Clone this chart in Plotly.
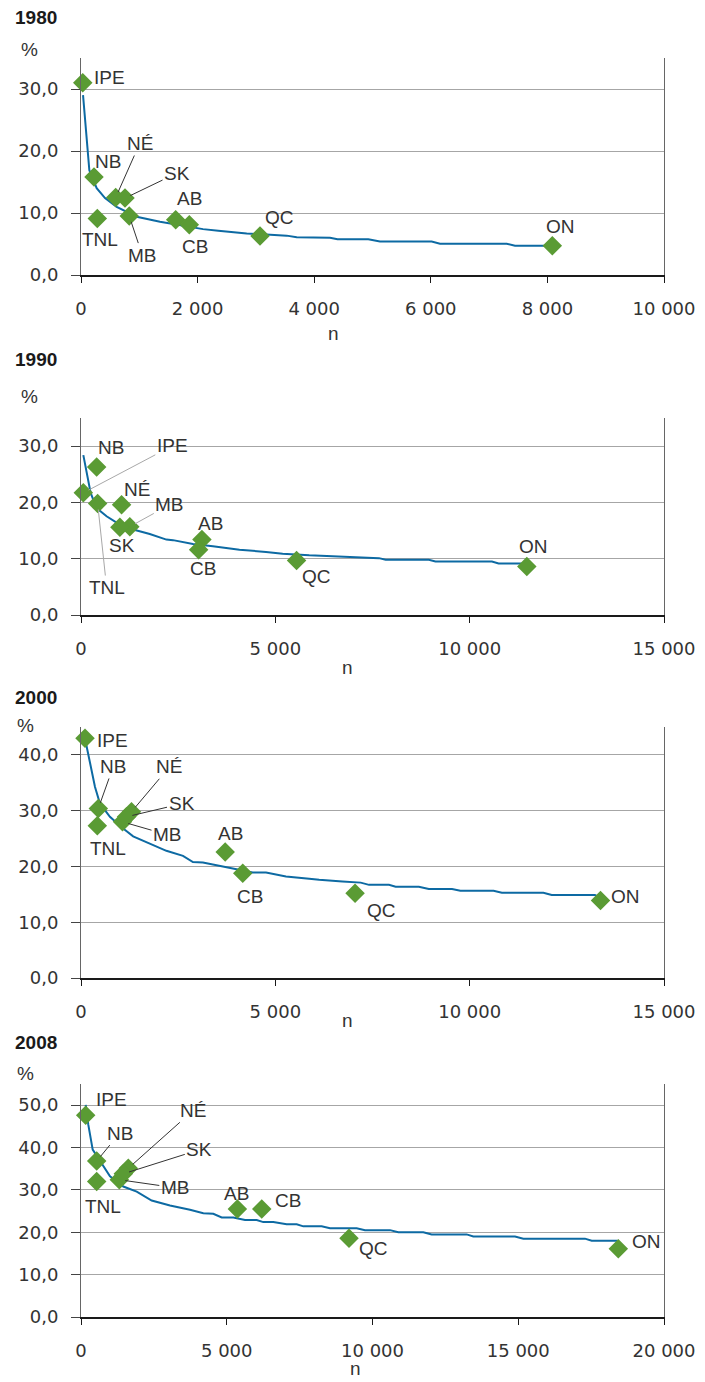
import plotly.graph_objects as go

# page has an 8px body margin, so the figure is sized to fill the remaining window
PAGE_OFF = 8
W, H = 705 - PAGE_OFF, 1382 - PAGE_OFF

# ---------------- data ----------------
provinces = ["TNL", "IPE", "NÉ", "NB", "QC", "ON", "MB", "SK", "AB", "CB"]

n_1980 = [280, 30, 595, 223, 3070, 8084, 828, 755, 1624, 1858]
p_1980 = [9.1, 31.0, 12.5, 15.8, 6.3, 4.7, 9.5, 12.4, 8.9, 8.1]
n_1990 = [428, 59, 1044, 403, 5547, 11470, 1256, 1000, 3111, 3026]
p_1990 = [19.8, 21.7, 19.6, 26.3, 9.7, 8.6, 15.7, 15.6, 13.4, 11.6]
n_2000 = [419, 103, 1299, 445, 7051, 13367, 1068, 1171, 3710, 4162]
p_2000 = [27.3, 43.0, 29.8, 30.4, 15.2, 13.9, 28.0, 28.9, 22.6, 18.8]
n_2008 = [538, 161, 1623, 538, 9194, 18433, 1314, 1451, 5364, 6200]
p_2008 = [32.0, 47.6, 35.1, 36.8, 18.6, 16.1, 32.4, 33.8, 25.5, 25.5]

curve_n_1980 = [35, 86, 143, 269, 412, 612, 755, 955, 1355, 1813, 2093, 2355, 2842, 3528, 3700,
                4271, 4400, 4928, 5128, 6015, 6158, 7302, 7444, 7959]
curve_p_1980 = [29.0, 22.8, 16.9, 14.0, 12.4, 11.0, 10.3, 9.4, 8.6, 7.8, 7.4, 7.15, 6.7, 6.35, 6.1,
                6.0, 5.75, 5.75, 5.4, 5.4, 5.05, 5.05, 4.73, 4.73]
curve_n_1990 = [60, 162, 248, 402, 658, 915, 1342, 1769, 2197, 2367, 2880, 3393, 4077, 4761, 5188,
                5872, 6726, 7154, 7667, 7838, 8949, 9120, 10573, 10744, 11342]
curve_p_1990 = [28.4, 24.7, 21.7, 19.0, 17.55, 16.4, 15.2, 14.4, 13.4, 13.3, 12.6, 12.2, 11.6, 11.2, 10.9,
                10.6, 10.3, 10.2, 10.1, 9.8, 9.8, 9.5, 9.5, 9.15, 9.15]
curve_n_2000 = [128, 248, 359, 487, 744, 1085, 1342, 1769, 2197, 2624, 2880, 3136, 3906, 4419, 4761,
                5017, 5274, 5872, 6128, 6726, 7197, 7410, 7923, 8095, 8692, 8949, 9547, 9761, 10615,
                10829, 11897, 12111, 13222, 13308]
curve_p_2000 = [42.1, 37.9, 34.3, 31.3, 28.9, 26.8, 25.4, 24.1, 22.8, 21.9, 20.8, 20.7, 19.65, 18.9, 18.9,
                18.6, 18.2, 17.8, 17.6, 17.3, 17.1, 16.7, 16.7, 16.35, 16.35, 15.95, 15.95, 15.65, 15.65,
                15.3, 15.3, 14.9, 14.9, 14.6]
curve_n_2008 = [161, 250, 401, 652, 995, 1451, 1911, 2425, 3053, 3739, 4196, 4539, 4826, 5226, 5626,
                6027, 6254, 6598, 7055, 7400, 7627, 8256, 8542, 9458, 9743, 10600, 10886, 11743, 12030,
                13230, 13458, 14889, 15175, 17290, 17519, 18410]
curve_p_2008 = [50.1, 45.4, 39.5, 36.7, 33.2, 30.8, 29.6, 27.5, 26.3, 25.3, 24.5, 24.35, 23.5, 23.5, 22.9,
                22.9, 22.4, 22.4, 21.9, 21.9, 21.4, 21.4, 20.95, 20.95, 20.5, 20.5, 20.0, 20.0, 19.5,
                19.5, 19.0, 19.0, 18.5, 18.5, 18.0, 18.0]

years = ["1980", "1990", "2000", "2008"]
x_max = [10000, 15000, 15000, 20000]
x_dtick = [2000, 5000, 5000, 5000]
y_max = [35, 35, 45, 55]

# ---------------- layout helpers (window pixel geometry) ----------------
PLOT_L, PLOT_R = 81, 664
panel_px = [(58, 275), (418, 615), (727, 978), (1084, 1317)]   # top, bottom
title_y = [18, 359, 698, 1042]
pct_pos = [(29, 50), (29, 397), (25, 725), (25, 1073)]
n_pos = [(333, 333), (347, 667), (347, 1020), (355, 1368)]

# label offsets in pixels: (dx, dy, leader)
label_offsets = [
    {"IPE": (27, -5, False), "NB": (14, -16, False), "TNL": (3, 21, False),
     "NÉ": (24, -54, True), "SK": (52, -25, True), "MB": (13, 39, True),
     "AB": (14, -21, False), "CB": (6, 22, False), "QC": (20, -18, False), "ON": (8, -19, False)},
    {"IPE": (89, -47, True), "NB": (14, -19, False), "TNL": (9, 84, True),
     "NÉ": (15, -15, False), "SK": (2, 18, False), "MB": (40, -22, True),
     "AB": (9, -16, False), "CB": (4, 19, False), "QC": (20, 16, False), "ON": (7, -20, False)},
    {"IPE": (27, 2, False), "NB": (15, -42, True), "TNL": (11, 23, False),
     "NÉ": (38, -45, True), "SK": (55, -13, True), "MB": (45, 13, True),
     "AB": (5, -18, False), "CB": (7, 23, False), "QC": (26, 17, False), "ON": (25, -4, False)},
    {"IPE": (26, -16, False), "NB": (23, -28, True), "TNL": (6, 25, False),
     "NÉ": (65, -58, True), "SK": (76, -24, True), "MB": (56, 8, True),
     "AB": (-1, -15, False), "CB": (26, -8, False), "QC": (24, 10, False), "ON": (28, -7, False)},
]
leader_colors = ["#333333", "#a8a8a8", "#333333", "#333333"]

FONT = "Liberation Sans, Arial, sans-serif"
TICKFONT = "DejaVu Sans, sans-serif"
TXT = "#333333"
BLUE = "#0d6aa3"
GREEN = "#5a9b34"

def fx(p):
    return (p - PAGE_OFF) / W

def fy(p):
    return 1 - (p - PAGE_OFF) / H

fig = go.Figure()
series = [(n_1980, p_1980, curve_n_1980, curve_p_1980),
          (n_1990, p_1990, curve_n_1990, curve_p_1990),
          (n_2000, p_2000, curve_n_2000, curve_p_2000),
          (n_2008, p_2008, curve_n_2008, curve_p_2008)]

annotations = []
layout_axes = {}
for i, (nn, pp, cn, cp) in enumerate(series):
    k = "" if i == 0 else str(i + 1)
    xa, ya = "x" + k, "y" + k
    fig.add_trace(go.Scatter(x=cn, y=cp, mode="lines", xaxis=xa, yaxis=ya,
                             line=dict(color=BLUE, width=2), showlegend=False,
                             hoverinfo="skip", cliponaxis=False))
    fig.add_trace(go.Scatter(x=nn, y=pp, mode="markers", xaxis=xa, yaxis=ya,
                             marker=dict(symbol="diamond", size=15, color=GREEN),
                             showlegend=False, cliponaxis=False, text=provinces))
    top, bot = panel_px[i]
    layout_axes["xaxis" + k] = dict(
        domain=[fx(PLOT_L), fx(PLOT_R)], anchor=ya, range=[0, x_max[i]],
        dtick=x_dtick[i], tick0=0, tickformat=",d", automargin=False,
        showline=True, linecolor="#1a1a1a", linewidth=2,
        ticks="outside", ticklen=6, tickcolor="#1a1a1a", tickwidth=1,
        ticklabelstandoff=10, showgrid=False, zeroline=False,
        tickfont=dict(family=TICKFONT, size=18, color=TXT))
    layout_axes["yaxis" + k] = dict(
        domain=[fy(bot), fy(top)], anchor=xa, range=[0, y_max[i]],
        dtick=10, tick0=0, tickformat=".1f", automargin=False,
        showline=True, linecolor="#666666", linewidth=1, mirror=True,
        ticks="outside", ticklen=9, tickcolor="#444444", tickwidth=1,
        ticklabelstandoff=9, showgrid=True, gridcolor="#a6a6a6", gridwidth=1,
        zeroline=False, tickfont=dict(family=TICKFONT, size=18, color=TXT))

    # province labels
    for name, xv, yv in zip(provinces, nn, pp):
        dx, dy, lead = label_offsets[i][name]
        if lead:
            annotations.append(dict(x=xv, y=yv, xref=xa, yref=ya, text=name,
                                    showarrow=True, ax=dx, ay=dy, arrowhead=0,
                                    arrowwidth=1, arrowcolor=leader_colors[i], standoff=6,
                                    font=dict(family=FONT, size=19, color=TXT)))
        else:
            annotations.append(dict(x=xv, y=yv, xref=xa, yref=ya, text=name,
                                    showarrow=False, xshift=dx, yshift=-dy,
                                    font=dict(family=FONT, size=19, color=TXT)))
    # titles and axis labels
    annotations.append(dict(x=fx(13), y=fy(title_y[i]), xref="paper", yref="paper",
                            text="<b>" + years[i] + "</b>", showarrow=False,
                            xanchor="left", yanchor="middle",
                            font=dict(family=FONT, size=19, color="#1a1a1a")))
    annotations.append(dict(x=fx(pct_pos[i][0]), y=fy(pct_pos[i][1]), xref="paper", yref="paper",
                            text="%", showarrow=False, xanchor="center", yanchor="middle",
                            font=dict(family=FONT, size=19, color=TXT)))
    annotations.append(dict(x=fx(n_pos[i][0]), y=fy(n_pos[i][1]), xref="paper", yref="paper",
                            text="n", showarrow=False, xanchor="center", yanchor="middle",
                            font=dict(family=FONT, size=19, color=TXT)))

fig.update_layout(width=W, height=H, margin=dict(l=0, r=0, t=0, b=0),
                  paper_bgcolor="white", plot_bgcolor="white",
                  separators=", ", annotations=annotations, showlegend=False,
                  **layout_axes)

fig.write_html("out.html")
